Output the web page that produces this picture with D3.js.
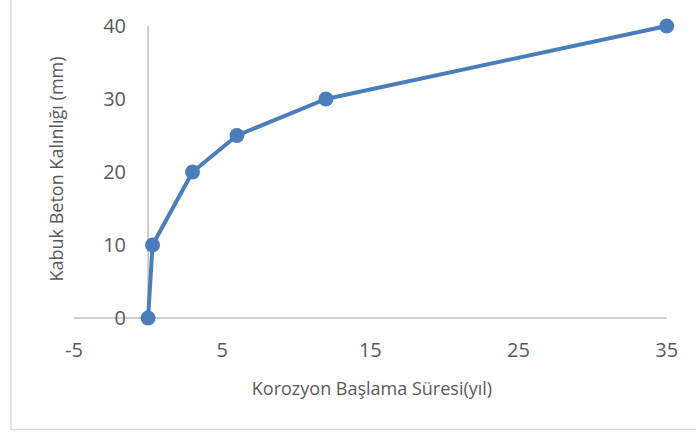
<!DOCTYPE html>
<html><head><meta charset="utf-8">
<script src="https://cdn.jsdelivr.net/npm/d3@7"></script>
<style>html,body{margin:0;padding:0;background:#fff;}svg{display:block;}</style>
</head><body>
<script>
const xValues = [0, 0.3, 3, 6, 12, 35];
const yValues = [0, 10, 20, 25, 30, 40];
const xTicks = [-5, 5, 15, 25, 35];
const yTicks = [0, 10, 20, 30, 40];
const xTitle = "Korozyon Başlama Süresi(yıl)";
const yTitle = "Kabuk Beton Kalınlığı (mm)";

const W = 696, H = 432;
const svg = d3.select("body").append("svg").attr("width", W).attr("height", H);
const font = "'Open Sans', sans-serif";
const textColor = "#595959";

// chart border (extends past top/right edge)
svg.append("rect").attr("x", 11).attr("y", -5).attr("width", 700).attr("height", 434.5)
  .attr("fill", "#fff").attr("stroke", "#d9d9d9").attr("stroke-width", 1.5);

const x = d3.scaleLinear().domain([-5, 35]).range([74, 666.7]);
const y = d3.scaleLinear().domain([0, 40]).range([318, 26]);

// x axis line
svg.append("line").attr("x1", x(-5)).attr("x2", x(35)).attr("y1", y(0)).attr("y2", y(0))
  .attr("stroke", "#bfbfbf").attr("stroke-width", 1.5);
// y axis line at x=0
svg.append("line").attr("x1", x(0)).attr("x2", x(0)).attr("y1", y(0)).attr("y2", y(40))
  .attr("stroke", "#bfbfbf").attr("stroke-width", 1.5);

// x tick labels
svg.selectAll(".xt").data(xTicks).enter().append("text")
  .attr("x", d => x(d)).attr("y", 357)
  .attr("text-anchor", "middle").attr("font-family", font).attr("font-size", 20)
  .attr("fill", textColor).text(d => d);
// y tick labels
svg.selectAll(".yt").data(yTicks).enter().append("text")
  .attr("x", 126).attr("y", d => y(d)).attr("dy", "0.35em")
  .attr("text-anchor", "end").attr("font-family", font).attr("font-size", 20)
  .attr("fill", textColor).text(d => d);

// titles
svg.append("text").attr("x", 372).attr("y", 395).attr("text-anchor", "middle")
  .attr("font-family", font).attr("font-size", 18).attr("fill", textColor).text(xTitle);
svg.append("text").attr("transform", "translate(63,169) rotate(-90)").attr("text-anchor", "middle")
  .attr("font-family", font).attr("font-size", 18).attr("fill", textColor).text(yTitle);

const pts = xValues.map((v, i) => [v, yValues[i]]);
const color = "#4a7ebb";
svg.append("path").datum(pts)
  .attr("d", d3.line().x(d => x(d[0])).y(d => y(d[1])))
  .attr("fill", "none").attr("stroke", color).attr("stroke-width", 4).attr("stroke-linejoin", "round");
svg.selectAll(".pt").data(pts).enter().append("circle")
  .attr("cx", d => x(d[0])).attr("cy", d => y(d[1])).attr("r", 7.5).attr("fill", color);
</script>
</body></html>
